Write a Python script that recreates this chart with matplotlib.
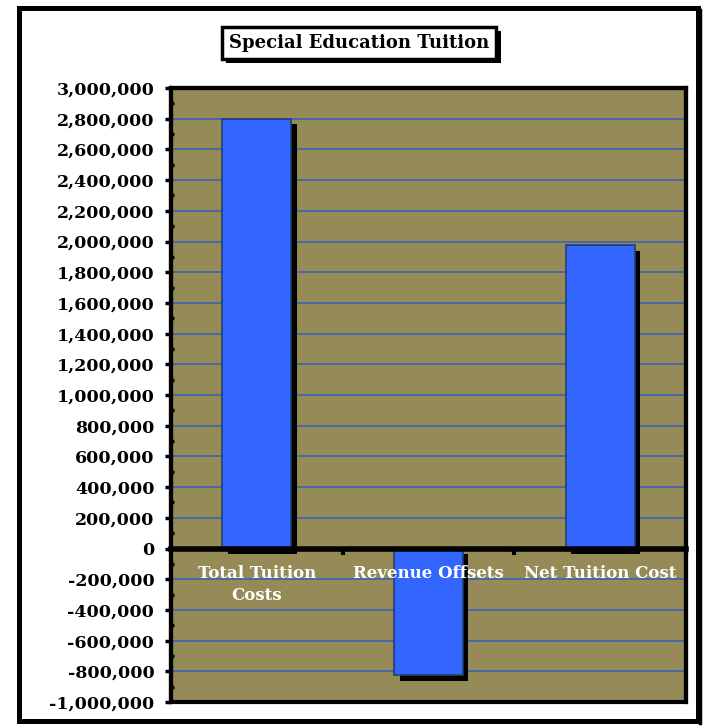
import numpy as np
import matplotlib.pyplot as plt
import matplotlib.patheffects as pe
from matplotlib.patches import Rectangle
from matplotlib.ticker import FuncFormatter, MultipleLocator

# datos
categorias = ['Total Tuition\nCosts', 'Revenue Offsets', 'Net Tuition Cost']
valores = [2800000, -825000, 1975000]
titulo = 'Special Education Tuition'

fondo = '#968B57'
azul = '#3366FF'
grid_color = '#3F66AE'
fuente = 'DejaVu Serif'

fig = plt.figure(figsize=(7.05, 7.26), dpi=100)
W, H = 705, 726

# borde exterior de la figura
borde = Rectangle((19 / W, 5 / H), 679 / W, 713 / H, transform=fig.transFigure,
                  fill=False, edgecolor='black', linewidth=3.6, zorder=0)
fig.patches.append(borde)
# sombra lado derecho
fig.add_artist(plt.Line2D([700 / W, 700 / W], [3 / H, 716 / H], transform=fig.transFigure,
                          color='black', linewidth=2.5))

ax = fig.add_axes([171 / W, 1 - 702 / H, (686 - 171) / W, (702 - 88) / H])
ax.set_facecolor(fondo)
ax.set_axisbelow(False)

x = np.arange(len(valores))
bars = ax.bar(x, valores, width=0.40, color=azul, edgecolor='#22406E', linewidth=1.2, zorder=2)
for b in bars:
    b.set_path_effects([pe.SimplePatchShadow(offset=(4, -4), shadow_rgbFace='k', alpha=1), pe.Normal()])

ax.set_xlim(-0.5, 2.5)
ax.set_ylim(-1000000, 3000000)

# rejilla
ax.yaxis.set_major_locator(MultipleLocator(200000))
ax.yaxis.set_minor_locator(MultipleLocator(100000))
for v in np.arange(-800000, 3000000, 200000):
    if v != 0:
        ax.axhline(v, color=grid_color, linewidth=1.3, zorder=1)

ax.yaxis.set_major_formatter(FuncFormatter(lambda v, p: '{:,.0f}'.format(v)))
ax.tick_params(axis='y', which='major', direction='out', length=4, width=2.5, pad=8,
               labelsize=12.5, color='black')
ax.tick_params(axis='y', which='minor', direction='in', length=2, width=2.5)
for lab in ax.get_yticklabels():
    lab.set_fontfamily(fuente)
    lab.set_fontweight('bold')

# eje x en cero
ax.spines['bottom'].set_position(('data', 0))
ax.spines['bottom'].set_linewidth(4)
ax.spines['bottom'].set_zorder(4)
for s in ['top', 'left', 'right']:
    ax.spines[s].set_linewidth(3)
ax.add_patch(Rectangle((0, 0), 1, 1, transform=ax.transAxes, fill=False,
                       edgecolor='black', linewidth=3, zorder=5, clip_on=False))

ax.set_xticks(x)
ax.set_xticklabels(categorias, color='white', fontsize=12, fontweight='bold',
                   fontfamily=fuente, linespacing=1.4)
ax.tick_params(axis='x', which='major', length=0, pad=12)
ax.set_xticks([0.5, 1.5, 2.5], minor=True)
ax.tick_params(axis='x', which='minor', direction='out', length=4, width=3)

# titulo con caja
t = fig.text(359 / W, 1 - 43 / H, titulo, ha='center', va='center', fontsize=13,
             fontweight='bold', fontfamily=fuente,
             bbox=dict(boxstyle='square,pad=0.4', facecolor='white', edgecolor='black', linewidth=2.5))
t.get_bbox_patch().set_path_effects([pe.SimplePatchShadow(offset=(3, -3), shadow_rgbFace='k', alpha=1), pe.Normal()])

fig.savefig('out.png', dpi=100)
